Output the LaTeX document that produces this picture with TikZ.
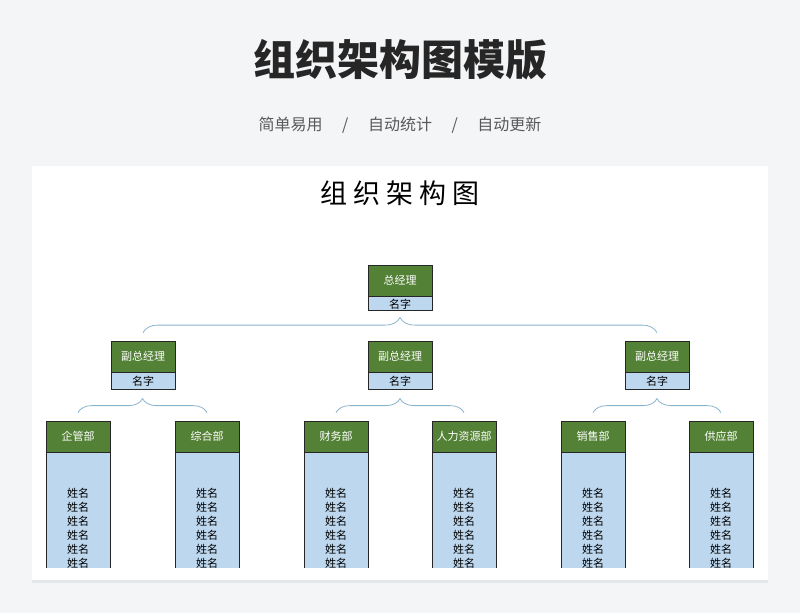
\documentclass[tikz,border=0pt]{standalone}
\usepackage{fontspec}
\setmainfont{Noto Sans CJK SC}
\usetikzlibrary{positioning,decorations.pathreplacing,shadows}
\definecolor{pagegray}{RGB}{243,245,247}
\definecolor{headgreen}{RGB}{83,129,53}
\definecolor{namblue}{RGB}{189,215,238}
\definecolor{linkblue}{RGB}{138,180,204}
\tikzset{
  head/.style={draw=black!85, line width=0.8pt, fill=headgreen, text=white, minimum width=64pt, minimum height=31pt, inner sep=0pt, font=\fontsize{11}{12}\selectfont},
  namebox/.style={draw=black!85, line width=0.8pt, fill=namblue, minimum width=64pt, inner sep=0pt, font=\fontsize{11}{12}\selectfont},
  link/.style={draw=linkblue, line width=0.8pt, decorate, decoration={brace, amplitude=#1}}
}
\begin{document}
\begin{tikzpicture}[x=1pt, y=-1pt]
    % Page and card
    \fill[pagegray] (0,0) rectangle (800,613);
    \fill[white, drop shadow={opacity=0.12, shadow xshift=0pt, shadow yshift=-3pt}] (32,166) rectangle (768,580);
    % Headings
    \node[font=\fontsize{42}{46}\selectfont\bfseries, text=black!85] (title) at (400,60) {组织架构图模版};
    \node[font=\fontsize{16}{18}\selectfont, text=black!65] (sub) at (400,125) {简单易用\quad\ /\ \quad 自动统计\quad\ /\ \quad 自动更新};
    \node[font=\fontsize{27}{30}\selectfont] (chart) at (400,193) {组\ 织\ 架\ 构\ 图};

    % Top
    \node[head] (gm) at (400,280.5) {总经理};
    \node[namebox, minimum height=14pt, below=0pt of gm] (gmname) {名字};
    % Vice
    \foreach \x/\n in {143/v1, 400/v2, 657/v3} {
        \node[head] (\n) at (\x,356.5) {副总经理};
        \node[namebox, minimum height=17pt, below=0pt of \n] (\n name) {名字};
    }
    % Departments
    \begin{scope}
        \clip (0,0) rectangle (800,567);
        \foreach \x/\n/\t in {78/d1/企管部, 207/d2/综合部, 336/d3/财务部, 464/d4/人力资源部, 593/d5/销售部, 721/d6/供应部} {
            \node[head] (\n) at (\x,436.5) {\t};
            \node[namebox, minimum height=130pt, below=0pt of \n, anchor=north, text depth=0pt] (\n list) {};
            \foreach \k in {0,...,5}
                \node[font=\fontsize{11}{12}\selectfont] at (\x,493+14*\k) {姓名};
        }
    \end{scope}

    % Links
    \draw[link=15pt] ([yshift=8pt]v1.north) -- ([yshift=8pt]v3.north);
    \draw[link=14pt] ([yshift=8pt]d1.north) -- ([yshift=8pt]d2.north);
    \draw[link=14pt] ([yshift=8pt]d3.north) -- ([yshift=8pt]d4.north);
    \draw[link=14pt] ([yshift=8pt]d5.north) -- ([yshift=8pt]d6.north);
\end{tikzpicture}
\end{document}
